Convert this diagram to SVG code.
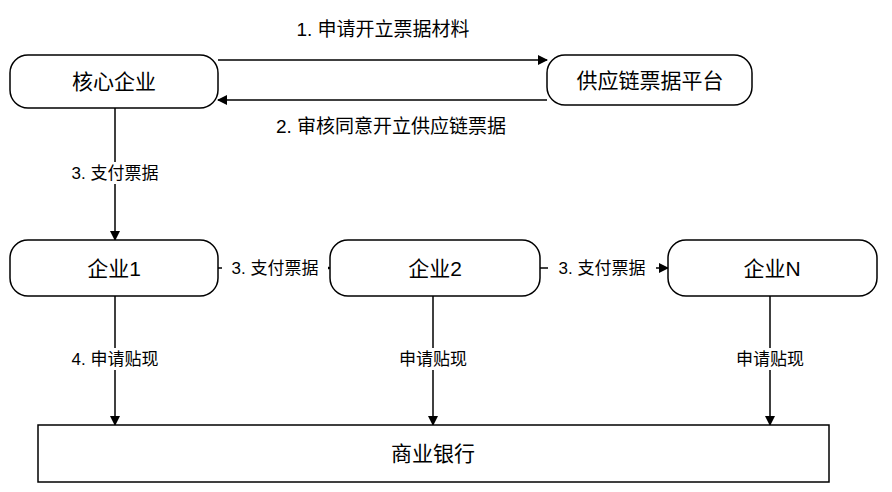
<svg xmlns="http://www.w3.org/2000/svg" width="892" height="492" viewBox="0 0 892 492">
<style>
.n{fill:#fff;stroke:#000;stroke-width:1.5}
.t{font-family:"Liberation Sans","Noto Sans CJK SC",sans-serif;font-size:21px;fill:#000;text-anchor:middle}
.s{font-family:"Liberation Sans","Noto Sans CJK SC",sans-serif;font-size:17px;fill:#000;text-anchor:middle}
.l{font-family:"Liberation Sans","Noto Sans CJK SC",sans-serif;font-size:19px;fill:#000;text-anchor:middle}
.c{stroke:#000;stroke-width:1.5;fill:none;marker-end:url(#a)}
</style>
<defs><marker id="a" markerWidth="10" markerHeight="10" refX="9" refY="5" orient="auto" markerUnits="userSpaceOnUse"><path d="M0,0L10,5L0,10z" fill="#000"/></marker></defs>
<rect width="892" height="492" fill="#fff"/>
<g id="connectors">
<path class="c" d="M218,60H547"/>
<path class="c" d="M547,100H218"/>
<path class="c" d="M115,108V240"/>
<path class="c" d="M218,268H330"/>
<path class="c" d="M540,268H668"/>
<path class="c" d="M115,296V425"/>
<path class="c" d="M433,296V425"/>
<path class="c" d="M770,296V425"/>
<rect x="62" y="162" width="108" height="22" fill="#fff"/>
<text class="s" x="115" y="179">3. 支付票据</text>
<rect x="222" y="256" width="106" height="22" fill="#fff"/>
<text class="s" x="275" y="274">3. 支付票据</text>
<rect x="548" y="256" width="108" height="22" fill="#fff"/>
<text class="s" x="602" y="274">3. 支付票据</text>
<rect x="58" y="348" width="114" height="22" fill="#fff"/>
<text class="s" x="115" y="365">4. 申请贴现</text>
<rect x="390" y="348" width="86" height="22" fill="#fff"/>
<text class="s" x="433" y="365">申请贴现</text>
<rect x="727" y="348" width="86" height="22" fill="#fff"/>
<text class="s" x="770" y="365">申请贴现</text>
<text class="l" x="383" y="36">1. 申请开立票据材料</text>
<text class="l" x="391" y="133">2. 审核同意开立供应链票据</text>
</g>
<g id="core"><rect class="n" x="10" y="55" width="208" height="53" rx="18"/><text class="t" x="114" y="89">核心企业</text></g>
<g id="platform"><rect class="n" x="547" y="55" width="205" height="50" rx="18"/><text class="t" x="650" y="88">供应链票据平台</text></g>
<g id="e1"><rect class="n" x="10" y="240" width="208" height="56" rx="18"/><text class="t" x="114" y="276">企业1</text></g>
<g id="e2"><rect class="n" x="330" y="240" width="210" height="56" rx="18"/><text class="t" x="435" y="276">企业2</text></g>
<g id="eN"><rect class="n" x="668" y="240" width="209" height="56" rx="18"/><text class="t" x="772" y="276">企业N</text></g>
<g id="bank"><rect class="n" x="38" y="425" width="791" height="57"/><text class="t" x="433" y="461">商业银行</text></g>
</svg>
